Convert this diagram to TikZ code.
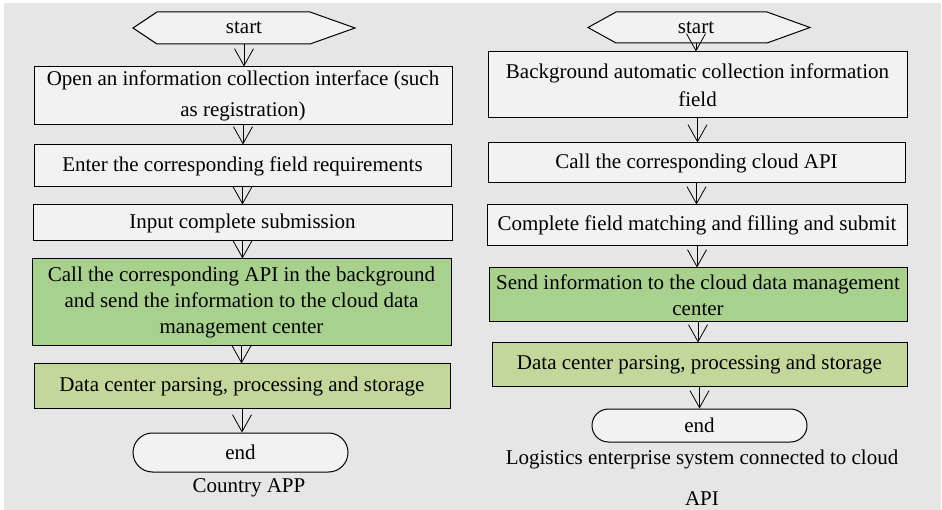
\documentclass[tikz,border=0pt]{standalone}
\usepackage{fontspec}
\setmainfont{Liberation Serif}
\usetikzlibrary{arrows.meta,shapes.misc}
\definecolor{bggray}{HTML}{E6E6E6}
\definecolor{boxwhite}{HTML}{F2F2F2}
\definecolor{apigreen}{HTML}{A9D18E}
\definecolor{paleolive}{HTML}{C4D79B}
\tikzset{
  flowbox/.style={draw=black, line width=1pt, fill=boxwhite, inner sep=0pt,
    align=center, font=\fontsize{21}{26}\selectfont},
  endbox/.style={flowbox, rounded rectangle, minimum width=215pt},
  startshape/.style={draw=black, line width=1pt, fill=boxwhite},
  plaintext/.style={inner sep=0pt, align=center, font=\fontsize{21}{26}\selectfont},
  flowarrow/.style={-{Straight Barb[length=17pt,width=19pt]}, line width=0.8pt},
}
\begin{document}
\begin{tikzpicture}[x=1pt,y=-1pt]
\useasboundingbox (0,0) rectangle (942,510);
\fill[bggray] (4,3) rectangle (941,510);

% left: Country APP
\draw[startshape] (133,28) -- (157,12) -- (310,12) -- (355,28) -- (310,44) -- (157,44) -- cycle;
\node[plaintext, minimum height=32pt] (lstart) at (244,28) {start};
\node[flowbox, minimum width=418pt, minimum height=58pt] (lopen) at (243,96)
  {Open an information collection interface (such\\[5pt] as registration)};
\node[flowbox, minimum width=417pt, minimum height=42pt] (lenter) at (242.5,166)
  {Enter the corresponding field requirements};
\node[flowbox, minimum width=419pt, minimum height=36pt] (linput) at (242.5,223)
  {Input complete submission};
\node[flowbox, fill=apigreen, minimum width=419pt, minimum height=87pt] (lcall) at (241.5,302.5)
  {Call the corresponding API in the background\\ and send the information to the cloud data\\ management center};
\node[flowbox, fill=paleolive, minimum width=416pt, minimum height=44pt] (lparse) at (242,386)
  {Data center parsing, processing and storage};
\node[endbox, minimum height=39pt] (lend) at (240.5,452.5) {end};
\node[plaintext] (lcaption) at (249,488) {Country APP};

\draw[flowarrow] (lstart.south) -- (lstart.south |- lopen.north);
\draw[flowarrow] (lopen.south) -- (lopen.south |- lenter.north);
\draw[flowarrow] (lenter.south) -- (lenter.south |- linput.north);
\draw[flowarrow] (linput.south) -- (linput.south |- lcall.north);
\draw[flowarrow] (lcall.south) -- (lcall.south |- lparse.north);
\draw[flowarrow] (lparse.south) -- (lparse.south |- lend.north);

% right: logistics enterprise system
\draw[startshape] (588,27.5) -- (616,12) -- (767,12) -- (810,27.5) -- (767,43) -- (616,43) -- cycle;
\node[plaintext, minimum height=31pt] (rstart) at (696,27.5) {start};
\node[flowbox, minimum width=419pt, minimum height=66pt] (rcollect) at (697.5,85)
  {Background automatic collection information\\[2pt] field};
\node[flowbox, minimum width=417pt, minimum height=40pt] (rcloud) at (696.5,163)
  {Call the corresponding cloud API};
\node[flowbox, minimum width=420pt, minimum height=41pt] (rmatch) at (697,225.5)
  {Complete field matching and filling and submit};
\node[flowbox, fill=apigreen, minimum width=418pt, minimum height=54pt] (rsend) at (698,295)
  {Send information to the cloud data management\\ center};
\node[flowbox, fill=paleolive, minimum width=415pt, minimum height=43pt] (rparse) at (699.5,364.5)
  {Data center parsing, processing and storage};
\node[endbox, minimum height=33pt] (rend) at (699.5,425.5) {end};
\node[plaintext] (rcaption) at (702,477.5)
  {Logistics enterprise system connected to cloud\\[15pt] API};

\draw[flowarrow] (rstart.south) -- (rstart.south |- rcollect.north);
\draw[flowarrow] (rcollect.south) -- (rcollect.south |- rcloud.north);
\draw[flowarrow] (rcloud.south) -- (rcloud.south |- rmatch.north);
\draw[flowarrow] (rmatch.south) -- (rmatch.south |- rsend.north);
\draw[flowarrow] (rsend.south) -- (rsend.south |- rparse.north);
\draw[flowarrow] (rparse.south) -- (rparse.south |- rend.north);
\end{tikzpicture}
\end{document}
